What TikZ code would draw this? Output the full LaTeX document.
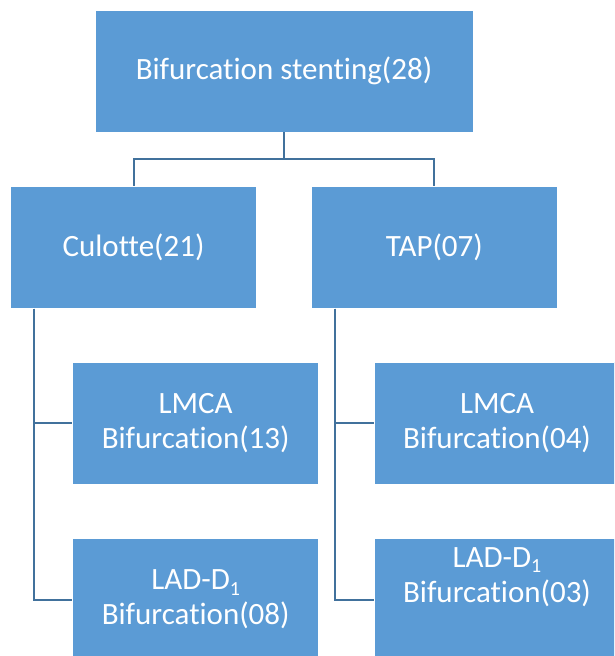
\documentclass[tikz,border=0pt]{standalone}
\usepackage{fontspec}
\setmainfont{Carlito}[Ligatures={NoCommon}]
\definecolor{boxblue}{HTML}{5B9BD5}
\definecolor{lineblue}{HTML}{41719C}
\newcommand{\lowsub}[1]{\raisebox{-0.35ex}{\fontsize{20}{20}\selectfont #1}}
\tikzset{
  orgbox/.style={fill=boxblue, draw=white, line width=0.8pt, inner sep=0pt,
    text=white, align=center, font=\fontsize{31}{34.7}\selectfont},
  conn/.style={draw=lineblue, line width=2pt},
  lbl/.style={text=white, align=center, inner sep=0pt, font=\fontsize{31}{34.7}\selectfont}
}
\begin{document}
\begin{tikzpicture}[x=1pt,y=-1pt]
\useasboundingbox (0,0) rectangle (614,656);
\fill[white] (0,0) rectangle (614,656);
\clip (0,0) rectangle (614,656);
% boxes
\node[orgbox, minimum width=378pt, minimum height=122pt] (top) at (284,71) {Bifurcation stenting(28)};
\node[orgbox, minimum width=246pt, minimum height=122pt] (cul) at (133.5,247) {Culotte(21)};
\node[orgbox, minimum width=246pt, minimum height=122pt] (tap) at (434.3,247) {TAP(07)};
\node[orgbox, minimum width=246pt, minimum height=122pt] (lm1) at (195.7,423) {LMCA\\Bifurcation(13)};
\node[orgbox, minimum width=246pt, minimum height=122pt] (lm2) at (497,423) {LMCA\\Bifurcation(04)};
\node[orgbox, minimum width=246pt, minimum height=122pt] (ld1) at (195.7,599.5) {LAD-D\lowsub{1}\\Bifurcation(08)};
\node[orgbox, minimum width=246pt, minimum height=122pt] (ld2) at (497,599.5) {};
\node[lbl] (ld2t) at (497,577) {LAD-D\lowsub{1}\\Bifurcation(03)};
% connectors
\coordinate (lv) at (34,308.5);
\coordinate (rv) at (335,308.5);
\draw[conn] (top.south) -- ++(0,27) -| (cul.north);
\draw[conn] (top.south) -- ++(0,27) -| (tap.north);
\draw[conn] (lv) |- (lm1.west);
\draw[conn] (lv) |- (ld1.west);
\draw[conn] (rv) |- (lm2.west);
\draw[conn] (rv) |- (ld2.west);
\end{tikzpicture}
\end{document}
